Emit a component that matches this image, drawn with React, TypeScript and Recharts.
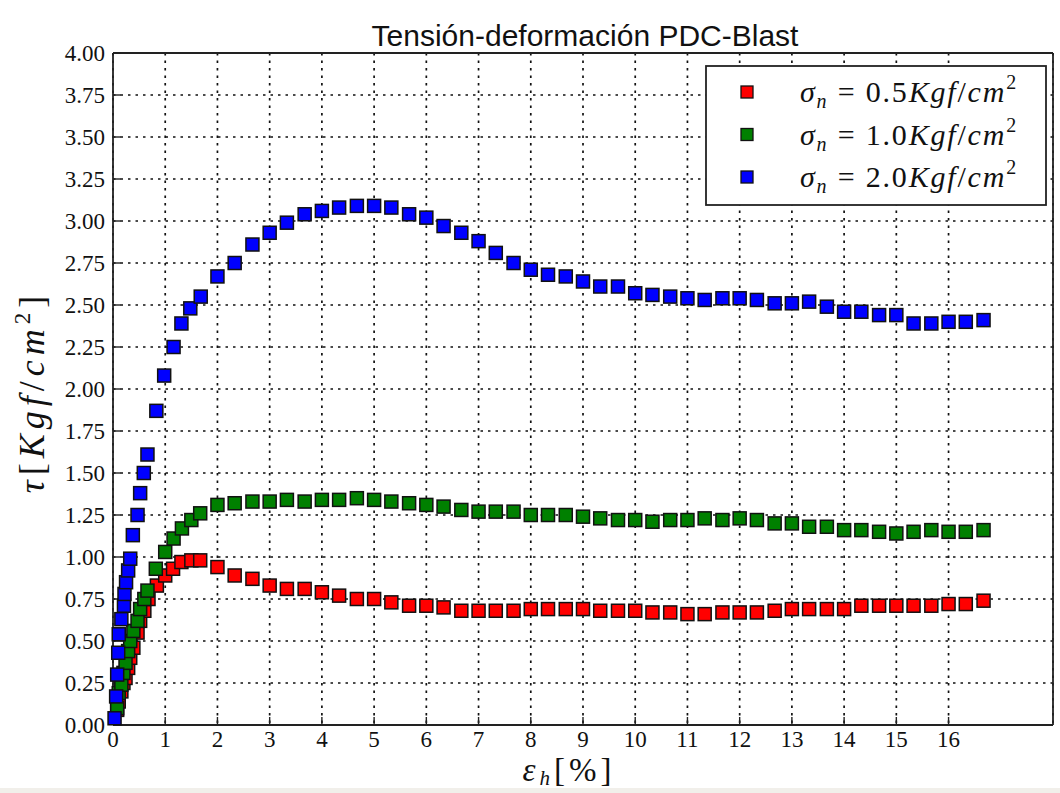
import React from 'react';
import { ScatterChart, Scatter, XAxis, YAxis, CartesianGrid } from 'recharts';

// [strain %, shear stress Kgf/cm2]
const sigma05: [number, number][] = [
  [0.08, 0.09], [0.11, 0.14], [0.16, 0.2], [0.2, 0.25], [0.24, 0.28], [0.29, 0.34], [0.33, 0.4],
  [0.39, 0.46], [0.47, 0.55], [0.52, 0.62], [0.6, 0.68], [0.68, 0.75], [0.84, 0.83], [1.0, 0.89],
  [1.15, 0.93], [1.31, 0.97], [1.5, 0.98], [1.67, 0.98], [2.0, 0.94], [2.33, 0.89], [2.67, 0.87],
  [3.0, 0.83], [3.33, 0.81], [3.67, 0.81], [4.0, 0.79], [4.33, 0.77], [4.67, 0.75], [5.0, 0.75],
  [5.33, 0.73], [5.67, 0.71], [6.0, 0.71], [6.33, 0.7], [6.67, 0.68], [7.0, 0.68], [7.33, 0.68],
  [7.67, 0.68], [8.0, 0.69], [8.33, 0.69], [8.67, 0.69], [9.0, 0.69], [9.33, 0.68], [9.67, 0.68],
  [10.0, 0.68], [10.33, 0.67], [10.67, 0.67], [11.0, 0.66], [11.33, 0.66], [11.67, 0.67], [12.0, 0.67],
  [12.33, 0.67], [12.67, 0.68], [13.0, 0.69], [13.33, 0.69], [13.67, 0.69], [14.0, 0.69], [14.33, 0.71],
  [14.67, 0.71], [15.0, 0.71], [15.33, 0.71], [15.67, 0.71], [16.0, 0.72], [16.33, 0.72], [16.67, 0.74],
];

const sigma10: [number, number][] = [
  [0.08, 0.1], [0.11, 0.19], [0.16, 0.24], [0.2, 0.31], [0.24, 0.37], [0.29, 0.44], [0.33, 0.5],
  [0.39, 0.56], [0.47, 0.62], [0.52, 0.69], [0.6, 0.75], [0.66, 0.8], [0.82, 0.93], [1.0, 1.03],
  [1.16, 1.11], [1.32, 1.17], [1.5, 1.22], [1.67, 1.26], [2.0, 1.31], [2.33, 1.32], [2.67, 1.33],
  [3.0, 1.33], [3.33, 1.34], [3.67, 1.33], [4.0, 1.34], [4.33, 1.34], [4.67, 1.35], [5.0, 1.34],
  [5.33, 1.33], [5.67, 1.32], [6.0, 1.31], [6.33, 1.3], [6.67, 1.28], [7.0, 1.27], [7.33, 1.27],
  [7.67, 1.27], [8.0, 1.25], [8.33, 1.25], [8.67, 1.25], [9.0, 1.24], [9.33, 1.23], [9.67, 1.22],
  [10.0, 1.22], [10.33, 1.21], [10.67, 1.22], [11.0, 1.22], [11.33, 1.23], [11.67, 1.22], [12.0, 1.23],
  [12.33, 1.22], [12.67, 1.2], [13.0, 1.2], [13.33, 1.18], [13.67, 1.18], [14.0, 1.16], [14.33, 1.16],
  [14.67, 1.15], [15.0, 1.14], [15.33, 1.15], [15.67, 1.16], [16.0, 1.15], [16.33, 1.15], [16.67, 1.16],
];

const sigma20: [number, number][] = [
  [0.03, 0.04], [0.06, 0.17], [0.08, 0.3], [0.1, 0.43], [0.11, 0.54], [0.16, 0.63], [0.21, 0.71],
  [0.22, 0.78], [0.25, 0.85], [0.29, 0.92], [0.33, 0.99], [0.38, 1.13], [0.47, 1.25], [0.52, 1.38],
  [0.59, 1.5], [0.66, 1.61], [0.83, 1.87], [0.98, 2.08], [1.16, 2.25], [1.31, 2.39], [1.48, 2.48],
  [1.68, 2.55], [2.0, 2.67], [2.33, 2.75], [2.67, 2.86], [3.0, 2.93], [3.33, 2.99], [3.67, 3.04],
  [4.0, 3.06], [4.33, 3.08], [4.67, 3.09], [5.0, 3.09], [5.33, 3.08], [5.67, 3.04], [6.0, 3.02],
  [6.33, 2.97], [6.67, 2.93], [7.0, 2.88], [7.33, 2.81], [7.67, 2.75], [8.0, 2.71], [8.33, 2.68],
  [8.67, 2.67], [9.0, 2.64], [9.33, 2.61], [9.67, 2.61], [10.0, 2.57], [10.33, 2.56], [10.67, 2.55],
  [11.0, 2.54], [11.33, 2.53], [11.67, 2.54], [12.0, 2.54], [12.33, 2.53], [12.67, 2.51], [13.0, 2.51],
  [13.33, 2.52], [13.67, 2.49], [14.0, 2.46], [14.33, 2.46], [14.67, 2.44], [15.0, 2.44], [15.33, 2.39],
  [15.67, 2.39], [16.0, 2.4], [16.33, 2.4], [16.67, 2.41],
];

const normalLoads = ['0.5', '1.0', '2.0'];
const colors = ['#ff0000', '#008000', '#0000ff'];
const xTicks = [0, 1, 2, 3, 4, 5, 6, 7, 8, 9, 10, 11, 12, 13, 14, 15, 16];
const yTicks = [0, 0.25, 0.5, 0.75, 1, 1.25, 1.5, 1.75, 2, 2.25, 2.5, 2.75, 3, 3.25, 3.5, 3.75, 4];

const toPoints = (arr: [number, number][]) => arr.map(([x, y]) => ({ x, y }));
const allSeries = [sigma05, sigma10, sigma20].map((d, i) => ({
  load: normalLoads[i],
  color: colors[i],
  data: toPoints(d),
}));

const Square = (props: any) => {
  const { cx, cy, fill } = props;
  return <rect x={cx - 6.5} y={cy - 6.5} width={13} height={13} fill={fill} stroke="#111" strokeWidth={1.5} />;
};

const serif = '"Liberation Serif", "DejaVu Serif", serif';
const tickStyle = { fontFamily: serif, fontSize: 23, fill: '#111' };
const frame = { stroke: '#222', strokeWidth: 1.8 };
const tickLn = { stroke: '#222', strokeWidth: 1.4 };

export default function App() {
  return (
    <div style={{ position: 'absolute', left: 0, top: 0, width: 1060, height: 793, background: '#fff' }}>
      <ScatterChart width={1060} height={793} margin={{ top: 52, right: 6, bottom: 0, left: 0 }}>
        <CartesianGrid stroke="#111" strokeDasharray="2.5 5" strokeWidth={1.7} />
        <XAxis
          type="number"
          dataKey="x"
          domain={[0, 18]}
          ticks={xTicks}
          height={68}
          tickSize={-8}
          tickMargin={14}
          tick={tickStyle}
          axisLine={frame}
          tickLine={tickLn}
        />
        <XAxis
          xAxisId="top"
          orientation="top"
          type="number"
          domain={[0, 18]}
          ticks={xTicks}
          height={1}
          tickSize={-8}
          tick={false}
          axisLine={frame}
          tickLine={tickLn}
        />
        <YAxis
          type="number"
          dataKey="y"
          domain={[0, 4]}
          ticks={yTicks}
          width={113}
          tickSize={-8}
          tickMargin={16}
          tick={tickStyle}
          tickFormatter={(v: number) => v.toFixed(2)}
          axisLine={frame}
          tickLine={tickLn}
        />
        <YAxis
          yAxisId="right"
          orientation="right"
          type="number"
          domain={[0, 4]}
          ticks={yTicks}
          width={1}
          tickSize={-8}
          tick={false}
          axisLine={frame}
          tickLine={tickLn}
        />
        {allSeries.map((s) => (
          <Scatter key={s.load} data={s.data} fill={s.color} shape={Square} isAnimationActive={false} />
        ))}
      </ScatterChart>

      {/* title, axis labels and legend */}
      <svg width={1060} height={793} style={{ position: 'absolute', left: 0, top: 0, pointerEvents: 'none' }}>
        <rect x={0} y={788} width={1060} height={5} fill="#f1efea" />
        <text x={585} y={46} textAnchor="middle" fontFamily='"Liberation Sans", Arial, sans-serif' fontSize={30} fill="#111">
          Tensión-deformación PDC-Blast
        </text>
        <text
          transform="translate(44, 392) rotate(-90)"
          textAnchor="middle"
          fontFamily={serif}
          fontSize={36}
          fill="#111"
          letterSpacing={5}
        >
          <tspan fontStyle="italic">τ</tspan>
          <tspan>[</tspan>
          <tspan fontStyle="italic">Kgf</tspan>
          <tspan>/</tspan>
          <tspan fontStyle="italic">cm</tspan>
          <tspan fontSize={23} dy={-14}>2</tspan>
          <tspan dy={14}>]</tspan>
        </text>
        <text x={569} y={781} textAnchor="middle" fontFamily={serif} fontSize={33} fill="#111" letterSpacing={4}>
          <tspan fontStyle="italic">ε</tspan>
          <tspan fontStyle="italic" fontSize={21} dy={4}>h</tspan>
          <tspan dy={-4}>[%]</tspan>
        </text>

        <g transform="translate(706, 66)">
          <rect x={0} y={0} width={340} height={139} fill="#fff" stroke="#222" strokeWidth={1.8} />
          {allSeries.map((s, i) => (
            <g key={s.load} transform={`translate(0, ${26 + i * 42.5})`}>
              <rect x={35} y={-6} width={12} height={12} fill={s.color} stroke="#111" strokeWidth={1.3} />
              <text x={94} y={10} fontFamily={serif} fontSize={30} fill="#111" letterSpacing={1.8}>
                <tspan fontStyle="italic">σ</tspan>
                <tspan fontStyle="italic" fontSize={20} dy={6}>n</tspan>
                <tspan dy={-6}>{` = ${s.load}`}</tspan>
                <tspan fontStyle="italic">Kgf</tspan>
                <tspan>/</tspan>
                <tspan fontStyle="italic">cm</tspan>
                <tspan fontSize={20} dy={-13}>2</tspan>
              </text>
            </g>
          ))}
        </g>
      </svg>
    </div>
  );
}
